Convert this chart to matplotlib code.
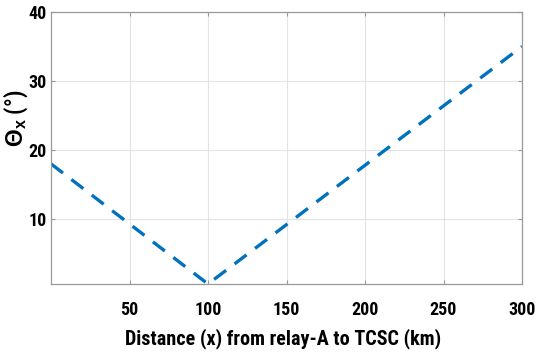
import matplotlib
matplotlib.use("Agg")
import matplotlib.pyplot as plt

distance_km = [0, 100, 300]
theta_x_deg = [18.0, 0.6, 35.0]
x_ticks = [50, 100, 150, 200, 250, 300]
y_ticks = [10, 20, 30, 40]

FAM = ['Roboto Condensed', 'Liberation Sans', 'DejaVu Sans']
plt.rcParams['font.family'] = FAM
plt.rcParams['mathtext.fontset'] = 'custom'
plt.rcParams['mathtext.bf'] = 'Liberation Sans:bold'
plt.rcParams['mathtext.rm'] = 'Liberation Sans'

fig = plt.figure(figsize=(5.36, 3.52), dpi=100)
L, R, T, B = 51, 522, 12, 284
ax = fig.add_axes([L / 536, 1 - B / 352, (R - L) / 536, (B - T) / 352])

ax.plot(distance_km, theta_x_deg, color='#0072BD', linewidth=2.4,
        linestyle=(0, (4.5, 3.2)), dash_capstyle='butt')

ax.set_xlim(0, 300)
ax.set_ylim(0.6, 40)
ax.set_xticks(x_ticks)
ax.set_yticks(y_ticks)
ax.grid(True, color='#e3e3e3', linewidth=0.8)
ax.set_axisbelow(True)
ax.tick_params(direction='in', length=3, top=True, right=True, color='#999999',
               labelsize=13)
ax.tick_params(axis='x', pad=12)
ax.tick_params(axis='y', pad=3)
for lab in ax.get_xticklabels() + ax.get_yticklabels():
    lab.set_fontweight('bold')
for s in ax.spines.values():
    s.set_color('#999999')
    s.set_linewidth(0.9)

ax.set_xlabel('Distance (x) from relay-A to TCSC (km)', fontsize=14.5, fontweight='bold')
ax.xaxis.set_label_coords((283 - L) / (R - L), (B - 328) / (B - T))
ax.set_ylabel(r'$\mathbf{\Theta_x}$ (°)', fontsize=16.5, fontweight='bold')
ax.yaxis.set_label_coords((16 - L) / (R - L), (B - 118) / (B - T))
ax.yaxis.label.set_va('center')

fig.savefig('out.png', dpi=100)
